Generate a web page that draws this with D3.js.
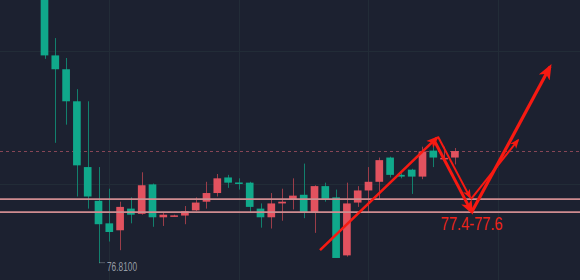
<!DOCTYPE html>
<html>
<head>
<meta charset="utf-8">
<script src="https://cdn.jsdelivr.net/npm/d3@7"></script>
<style>
  body { margin: 0; background: #1c2130; }
  svg { display: block; }
</style>
</head>
<body>
<div id="chart"></div>
<script>
        var w = 580;
        var h = 280;

        // candle data (price)
        var opens  = [80.08, 79.21, 79.05, 78.68, 77.92, 77.53, 77.27, 77.19, 77.44, 77.38, 77.72, 77.34, 77.358, 77.36, 77.42, 77.52, 77.62, 77.80, 77.742, 77.74,
                      77.44, 77.34, 77.50, 77.55, 77.60, 77.40, 77.70, 77.57, 76.90, 77.51, 77.65, 77.75, 78.03, 77.83, 77.89, 77.81, 78.11, 78.022, 78.03];
        var closes = [79.21, 79.05, 78.68, 77.94, 77.58, 77.26, 77.17, 77.46, 77.37, 77.71, 77.34, 77.37, 77.362, 77.41, 77.51, 77.62, 77.79, 77.74, 77.738, 77.46,
                      77.34, 77.50, 77.52, 77.59, 77.40, 77.70, 77.54, 76.87, 77.50, 77.65, 77.75, 78.00, 77.83, 77.81, 77.81, 78.10, 78.03, 78.026, 78.105];
        var highs  = [80.20, 79.41, 79.18, 78.82, 78.68, 77.92, 77.67, 77.52, 77.57, 77.86, 77.73, 77.39, 77.37, 77.47, 77.57, 77.75, 77.84, 77.83, 77.79, 77.75,
                      77.50, 77.62, 77.67, 77.79, 77.96, 77.71, 77.74, 77.66, 77.74, 77.70, 77.92, 78.03, 78.04, 77.85, 77.90, 78.155, 78.19, 78.155, 78.14];
        var lows   = [79.17, 78.20, 78.41, 77.58, 77.44, 76.81, 77.06, 76.96, 77.27, 77.37, 77.23, 77.24, 77.35, 77.26, 77.41, 77.44, 77.58, 77.68, 77.66, 77.40,
                      77.22, 77.21, 77.30, 77.43, 77.33, 77.16, 77.52, 76.87, 76.885, 77.46, 77.40, 77.55, 77.80, 77.79, 77.61, 77.78, 77.92, 78.02, 77.95];

        var gridPrices = [79.26, 77.73];
        var gridBars = [6, 18, 30, 42];
        var levelPrices = [77.55, 77.40];
        var lowLabel = "76.8100";
        var zoneLabel = "77.4-77.6";

        // drawn arrows: [fromBar, fromPrice, toBar, toPrice]
        var arrows = [
            [25.51, 76.96, 36.34, 78.26],
            [36.44, 78.27, 39.40, 77.57],
            [36.16, 78.21, 39.56, 77.40],
            [39.56, 77.40, 46.81, 79.08],
            [39.49, 77.55, 43.84, 78.23]
        ];
        var arrowWidths = [2.6, 2, 3, 3.2, 2];

        var n = opens.length;

        var xScale = d3.scaleBand()
                        .domain(d3.range(n))
                        .range([39.1, 460.3])
                        .paddingInner(0.29)
                        .paddingOuter(0.145);
        var bw = xScale.bandwidth();

        // continuous bar index scale, for things between / past the bars
        var xIdx = d3.scaleLinear()
                        .domain([0, n - 1])
                        .range([xScale(0) + bw / 2, xScale(n - 1) + bw / 2]);

        var yScale = d3.scaleLinear()
                        .domain([76.5, 79.85])
                        .range([290, 0]);

        var up = "#e2525f", down = "#10a98b";
        var upWick = "#9b3d49", downWick = "#12806d";

        var svg = d3.select("#chart")
                    .append("svg")
                    .attr("width", w)
                    .attr("height", h);

        svg.append("rect").attr("width", w).attr("height", h).attr("fill", "#1c2130");

        // grid
        svg.selectAll("line.gy")
           .data(gridPrices)
           .enter()
           .append("line")
           .attr("x1", 0).attr("x2", w)
           .attr("y1", function(d) { return Math.round(yScale(d)) + 0.5; })
           .attr("y2", function(d) { return Math.round(yScale(d)) + 0.5; })
           .attr("stroke", "#222c37");
        svg.selectAll("line.gx")
           .data(gridBars)
           .enter()
           .append("line")
           .attr("y1", 0).attr("y2", h)
           .attr("x1", function(d) { return Math.round(xIdx(d)) + 0.5; })
           .attr("x2", function(d) { return Math.round(xIdx(d)) + 0.5; })
           .attr("stroke", "#222c37");

        // last price dashed line
        svg.append("line")
           .attr("x1", 0).attr("x2", w)
           .attr("y1", Math.round(yScale(closes[n - 1])) + 0.5)
           .attr("y2", Math.round(yScale(closes[n - 1])) + 0.5)
           .attr("stroke", "#864656")
           .attr("stroke-dasharray", "3,3");

        var idx = d3.range(n);
        function isUp(i) { return closes[i] >= opens[i]; }

        // wicks
        svg.selectAll("line.wick")
           .data(idx)
           .enter()
           .append("line")
           .attr("x1", function(i) { return Math.round(xScale(i) + bw / 2) + 0.5; })
           .attr("x2", function(i) { return Math.round(xScale(i) + bw / 2) + 0.5; })
           .attr("y1", function(i) { return yScale(highs[i]); })
           .attr("y2", function(i) { return yScale(lows[i]); })
           .attr("stroke", function(i) { return isUp(i) ? upWick : downWick; })
           .attr("stroke-width", 1);

        // bodies
        svg.selectAll("rect.body")
           .data(idx)
           .enter()
           .append("rect")
           .attr("x", function(i) { return xScale(i); })
           .attr("y", function(i) { return yScale(Math.max(opens[i], closes[i])); })
           .attr("width", bw)
           .attr("height", function(i) {
                return Math.max(1.5, Math.abs(yScale(opens[i]) - yScale(closes[i])));
           })
           .attr("fill", function(i) { return isUp(i) ? up : down; });

        // support zone lines
        svg.selectAll("line.level")
           .data(levelPrices)
           .enter()
           .append("line")
           .attr("x1", 0).attr("x2", w)
           .attr("y1", function(d) { return yScale(d); })
           .attr("y2", function(d) { return yScale(d); })
           .attr("stroke", "#cf8c90")
           .attr("stroke-width", 1.8);

        // low label
        var li = lows.indexOf(d3.min(lows));
        var lx = xIdx(li), ly = yScale(lows[li]);
        svg.append("line")
           .attr("x1", lx + 1).attr("x2", lx + 7)
           .attr("y1", ly - 0.5).attr("y2", ly - 0.5)
           .attr("stroke", "#8b909a")
           .attr("stroke-dasharray", "1,1");
        svg.append("text")
           .attr("x", lx + 8.5)
           .attr("y", ly + 7.8)
           .attr("font-family", "'Liberation Sans Narrow', 'Liberation Sans', sans-serif")
           .attr("font-size", "13.5px")
           .attr("textLength", 30)
           .attr("lengthAdjust", "spacingAndGlyphs")
           .attr("fill", "#969ba4")
           .text(lowLabel);

        // arrows
        var red = "#f71a12";
        svg.append("defs").append("marker")
           .attr("id", "head")
           .attr("viewBox", "0 -5 10 10")
           .attr("refX", 8)
           .attr("refY", 0)
           .attr("markerWidth", 4.8)
           .attr("markerHeight", 4.8)
           .attr("orient", "auto")
           .append("path")
           .attr("d", "M0,-4L10,0L0,4L2.5,0Z")
           .attr("fill", red);

        svg.selectAll("line.arrow")
           .data(arrows)
           .enter()
           .append("line")
           .attr("x1", function(d) { return xIdx(d[0]); })
           .attr("y1", function(d) { return yScale(d[1]); })
           .attr("x2", function(d) { return xIdx(d[2]); })
           .attr("y2", function(d) { return yScale(d[3]); })
           .attr("stroke", red)
           .attr("stroke-width", function(d, i) { return arrowWidths[i]; })
           .attr("marker-end", "url(#head)");

        // zone label
        svg.append("text")
           .attr("x", xIdx(39.56))
           .attr("y", yScale(levelPrices[1]) + 17.5)
           .attr("text-anchor", "middle")
           .attr("font-family", "'Liberation Sans Narrow', 'Liberation Sans', sans-serif")
           .attr("font-size", "19px")
           .attr("textLength", 62)
           .attr("lengthAdjust", "spacingAndGlyphs")
           .attr("fill", "#f0241a")
           .text(zoneLabel);
</script>
</body>
</html>
